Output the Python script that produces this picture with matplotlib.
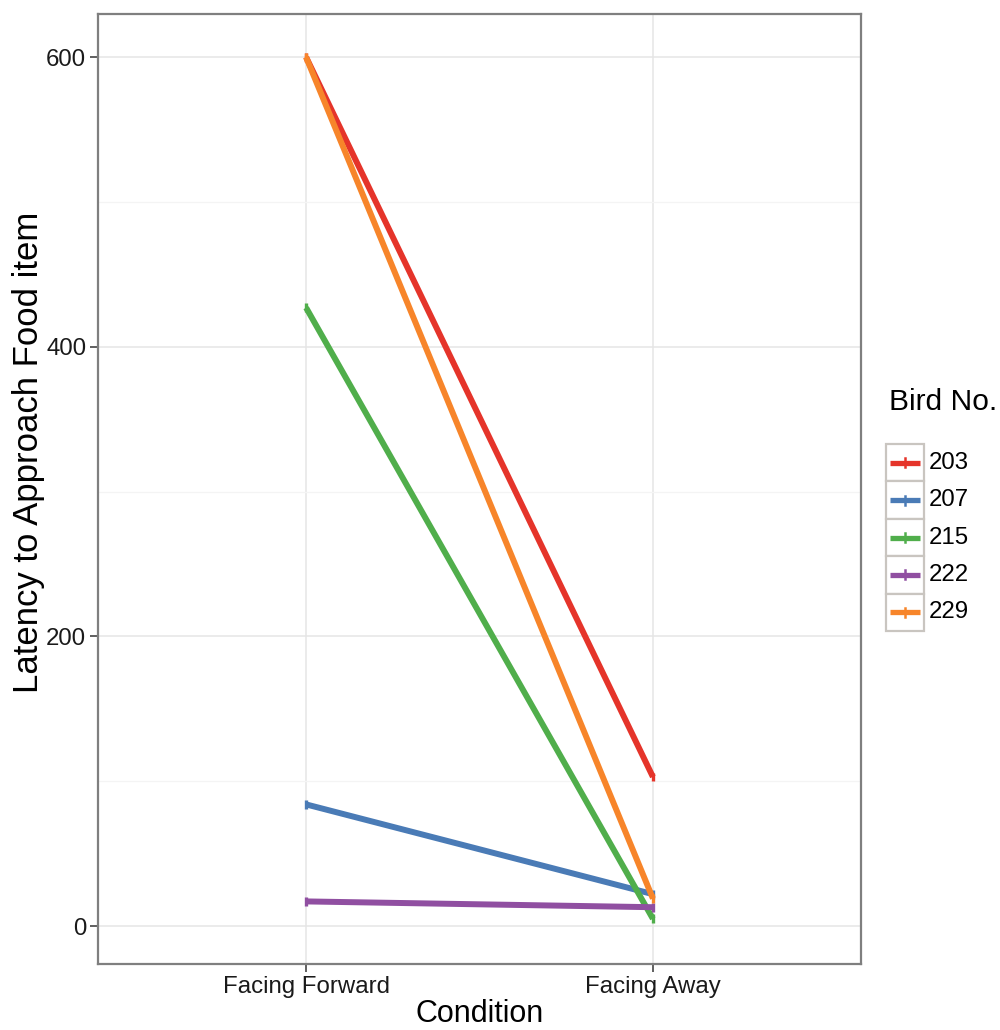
import matplotlib
matplotlib.use('Agg')
import matplotlib.pyplot as plt
from matplotlib.patches import Rectangle

plt.rcParams['font.family'] = ['Liberation Sans', 'DejaVu Sans']

conditions = ['Facing Forward', 'Facing Away']
birds = ['203', '207', '215', '222', '229']
latency = {
    '203': [600, 103],
    '207': [84, 22],
    '215': [427, 5],
    '222': [17, 13],
    '229': [600, 19],
}
err = 3
colors = ['#E5342A', '#4A7BB6', '#50AE4B', '#904FA1', '#F7852A']

fig = plt.figure(figsize=(10, 10.3), dpi=100)
ax = fig.add_axes([0.098, 0.0641, 0.763, 0.9223])

x = [1, 2]
for bird, c in zip(birds, colors):
    y = latency[bird]
    ax.plot(x, y, color=c, lw=4.3, solid_capstyle='butt', zorder=3)
    ax.errorbar(x, y, yerr=err, fmt='none', ecolor=c, elinewidth=2.4, capsize=0, zorder=3)

ax.set_xlim(0.4, 2.6)
ax.set_ylim(-26.2, 629.8)
ax.set_xticks(x)
ax.set_xticklabels(conditions)
ax.set_yticks([0, 200, 400, 600])
ax.set_yticks([100, 300, 500], minor=True)
ax.grid(which='major', color='#E5E5E5', lw=1.1)
ax.grid(which='minor', axis='y', color='#F4F4F4', lw=0.9)
ax.set_axisbelow(True)
ax.tick_params(which='major', length=6, width=1.2, color='#444444', labelsize=17.3,
               labelcolor='#1a1a1a', pad=2.5)
ax.tick_params(which='minor', length=0)
for s in ax.spines.values():
    s.set_color('#7f7f7f')
    s.set_linewidth(1.6)

ax.set_xlabel('Condition', fontsize=22, labelpad=1)
ax.set_ylabel('Latency to Approach Food item', fontsize=25)
ax.yaxis.set_label_coords(-0.069, (964 - 452) / 950)

# legend drawn by hand: one bordered key box per bird
fig.text(0.889, 1 - 402 / 1030, 'Bird No.', fontsize=21.6, va='center', ha='left')
box_w, box_h = 38, 37.4
top = 444
for i, (bird, c) in enumerate(zip(birds, colors)):
    y0 = top + i * box_h
    fig.patches.append(Rectangle((886 / 1000, 1 - (y0 + box_h) / 1030), box_w / 1000, box_h / 1030,
                                 transform=fig.transFigure, facecolor='white',
                                 edgecolor='#C9C5C0', lw=1.6))
    yc = 1 - (y0 + box_h / 2) / 1030
    fig.add_artist(plt.Line2D([890 / 1000, 920 / 1000], [yc, yc], transform=fig.transFigure,
                              color=c, lw=3.8, solid_capstyle='butt'))
    fig.add_artist(plt.Line2D([905 / 1000, 905 / 1000], [yc - 4.5 / 1030, yc + 4.5 / 1030],
                              transform=fig.transFigure, color=c, lw=1.8))
    fig.text(929 / 1000, yc, bird, fontsize=17.3, va='center', ha='left')

fig.savefig('out.png', dpi=100, facecolor='white')
